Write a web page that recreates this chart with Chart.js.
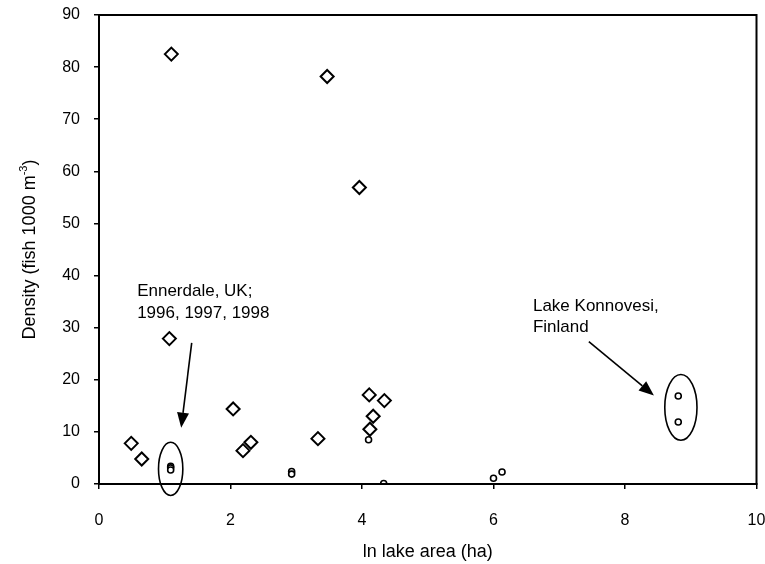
<!DOCTYPE html>
<html>
<head>
<meta charset="utf-8">
<script src="https://cdn.jsdelivr.net/npm/chart.js@4/dist/chart.umd.min.js"></script>
<style>
  html, body { margin: 0; padding: 0; background: #fff; }
  #wrap { width: 765px; height: 564px; }
</style>
</head>
<body>
<div id="wrap"><canvas id="c" width="765" height="564"></canvas></div>
<script>
// Lakes sampled (open diamonds)
const lakeAreaA = [0.49, 0.65, 1.07, 1.10, 2.04, 2.19, 2.31, 3.33, 3.47, 3.96, 4.11, 4.12, 4.17, 4.34];
const densityA  = [7.8, 4.8, 27.9, 82.5, 14.4, 6.4, 8.0, 8.7, 78.2, 56.9, 17.1, 10.5, 13.0, 16.0];

// Lakes sampled (open circles), incl. Ennerdale 1996–1998 and Lake Konnovesi
const lakeAreaB = [1.09, 1.09, 1.09, 2.93, 2.93, 4.10, 4.33, 6.00, 6.13, 8.81, 8.81];
const densityB  = [3.4, 3.1, 2.7, 2.4, 1.9, 8.5, 0.1, 1.1, 2.3, 16.9, 11.9];

const xTicks = [0, 2, 4, 6, 8, 10];
const yTicks = [0, 10, 20, 30, 40, 50, 60, 70, 80, 90];

const xTitle = 'ln lake area (ha)';
const yTitleMain = 'Density (fish 1000 m';
const yTitleSup = '-3';
const yTitleEnd = ')';

// Callouts in data units
const callouts = [
  { lines: ['Ennerdale, UK;', '1996, 1997, 1998'], x: 0.58, y: 36.9,
    arrowFrom: [1.41, 27.1], arrowTo: [1.25, 10.8],
    ellipse: { x: 1.09, y: 2.9, rx: 0.185, ry: 5.1 } },
  { lines: ['Lake Konnovesi,', 'Finland'], x: 6.6, y: 34.1,
    arrowFrom: [7.45, 27.3], arrowTo: [8.44, 17.0],
    ellipse: { x: 8.85, y: 14.7, rx: 0.245, ry: 6.3 } }
];

const FONT = '"Liberation Sans", Arial, Helvetica, sans-serif';

const toPts = (xs, ys) => xs.map((x, i) => ({ x: x, y: ys[i] }));

const framePlugin = {
  id: 'frame',
  afterDatasetsDraw(chart) {
    const ctx = chart.ctx, a = chart.chartArea;
    ctx.save();
    ctx.strokeStyle = '#000';
    ctx.lineWidth = 2;
    ctx.strokeRect(a.left, a.top, a.right - a.left, a.bottom - a.top);
    ctx.restore();
  },
  afterDraw(chart) {
    const ctx = chart.ctx, a = chart.chartArea;
    const xs = chart.scales.x, ys = chart.scales.y;
    ctx.save();
    ctx.fillStyle = '#000';
    ctx.strokeStyle = '#000';

    // axis titles
    ctx.font = '18px ' + FONT;
    ctx.textAlign = 'center';
    ctx.textBaseline = 'middle';
    ctx.fillText(xTitle, (a.left + a.right) / 2, 552);

    ctx.save();
    ctx.translate(30, (a.top + a.bottom) / 2);
    ctx.rotate(-Math.PI / 2);
    ctx.font = '18px ' + FONT;
    const w1 = ctx.measureText(yTitleMain).width;
    ctx.font = '11px ' + FONT;
    const w2 = ctx.measureText(yTitleSup).width;
    ctx.font = '18px ' + FONT;
    const w3 = ctx.measureText(yTitleEnd).width;
    let x0 = -(w1 + w2 + w3) / 2;
    ctx.textAlign = 'left';
    ctx.fillText(yTitleMain, x0, 0);
    ctx.font = '11px ' + FONT;
    ctx.fillText(yTitleSup, x0 + w1, -6);
    ctx.font = '18px ' + FONT;
    ctx.fillText(yTitleEnd, x0 + w1 + w2, 0);
    ctx.restore();

    // callouts
    callouts.forEach(c => {
      ctx.font = '17px ' + FONT;
      ctx.textAlign = 'left';
      ctx.textBaseline = 'middle';
      const tx = xs.getPixelForValue(c.x), ty = ys.getPixelForValue(c.y);
      c.lines.forEach((ln, i) => ctx.fillText(ln, tx, ty + i * 21.5));

      const fx = xs.getPixelForValue(c.arrowFrom[0]), fy = ys.getPixelForValue(c.arrowFrom[1]);
      const ex = xs.getPixelForValue(c.arrowTo[0]), ey = ys.getPixelForValue(c.arrowTo[1]);
      const ang = Math.atan2(ey - fy, ex - fx);
      const headL = 15, headW = 6;
      const bx = ex - headL * Math.cos(ang), by = ey - headL * Math.sin(ang);
      ctx.lineWidth = 1.6;
      ctx.beginPath();
      ctx.moveTo(fx, fy);
      ctx.lineTo(bx, by);
      ctx.stroke();
      ctx.beginPath();
      ctx.moveTo(ex, ey);
      ctx.lineTo(bx + headW * Math.sin(ang), by - headW * Math.cos(ang));
      ctx.lineTo(bx - headW * Math.sin(ang), by + headW * Math.cos(ang));
      ctx.closePath();
      ctx.fill();

      const e = c.ellipse;
      const cx = xs.getPixelForValue(e.x), cy = ys.getPixelForValue(e.y);
      const rx = xs.getPixelForValue(e.x + e.rx) - cx;
      const ry = cy - ys.getPixelForValue(e.y + e.ry);
      ctx.lineWidth = 1.6;
      ctx.beginPath();
      ctx.ellipse(cx, cy, rx, ry, 0, 0, Math.PI * 2);
      ctx.stroke();
    });
    ctx.restore();
  }
};

new Chart(document.getElementById('c'), {
  type: 'scatter',
  data: {
    datasets: [
      {
        data: toPts(lakeAreaA, densityA),
        pointStyle: 'rectRot',
        pointRadius: 6.5,
        pointBorderWidth: 2,
        pointBackgroundColor: '#fff',
        pointBorderColor: '#000'
      },
      {
        data: toPts(lakeAreaB, densityB),
        pointStyle: 'circle',
        pointRadius: 3,
        pointBorderWidth: 1.6,
        pointBackgroundColor: '#fff',
        pointBorderColor: '#000'
      }
    ]
  },
  options: {
    responsive: false,
    animation: false,
    events: [],
    layout: { padding: { top: 15, right: 8, left: 0, bottom: 0 } },
    plugins: { legend: { display: false }, tooltip: { enabled: false } },
    scales: {
      x: {
        type: 'linear', min: 0, max: 10,
        afterBuildTicks: s => { s.ticks = xTicks.map(v => ({ value: v })); },
        afterFit: s => { s.height = 80; s.paddingLeft = 0; s.paddingRight = 0; },
        grid: { drawOnChartArea: false, drawTicks: true, tickLength: 5, color: '#000', lineWidth: 1.5 },
        border: { display: true, color: '#000', width: 2 },
        ticks: { color: '#000', font: { family: FONT, size: 16 }, padding: 22, maxRotation: 0 }
      },
      y: {
        type: 'linear', min: 0, max: 90,
        afterBuildTicks: s => { s.ticks = yTicks.map(v => ({ value: v })); },
        afterFit: s => { s.width = 99; s.paddingTop = 0; s.paddingBottom = 0; },
        grid: { drawOnChartArea: false, drawTicks: true, tickLength: 5, color: '#000', lineWidth: 1.5 },
        border: { display: true, color: '#000', width: 2 },
        ticks: { color: '#000', font: { family: FONT, size: 16 }, padding: 14 }
      }
    }
  },
  plugins: [framePlugin]
});
</script>
</body>
</html>
